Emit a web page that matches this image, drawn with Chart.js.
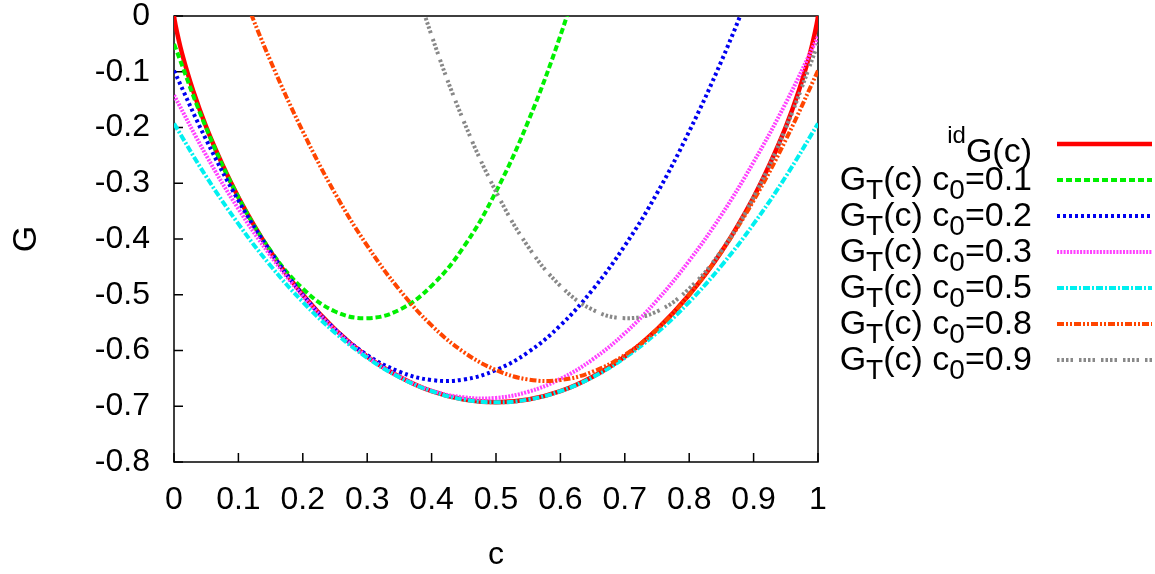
<!DOCTYPE html>
<html><head><meta charset="utf-8">
<script src="https://cdn.jsdelivr.net/npm/chart.js@4.4.0/dist/chart.umd.min.js"></script>
<style>html,body{margin:0;padding:0;background:#fff;}#wrap{width:1155px;height:574px;}</style>
</head><body><div id="wrap"><canvas id="chart" width="1155" height="574"></canvas></div>
<script>
// ---- data ----
const xTicks = [0, 0.1, 0.2, 0.3, 0.4, 0.5, 0.6, 0.7, 0.8, 0.9, 1];
const yTicks = [0, -0.1, -0.2, -0.3, -0.4, -0.5, -0.6, -0.7, -0.8];

const idealC = [0, 0.001, 0.005, 0.01, 0.02, 0.03, 0.05, 0.075, 0.1, 0.15, 0.2, 0.25, 0.3, 0.35, 0.4, 0.45, 0.5,
                0.55, 0.6, 0.65, 0.7, 0.75, 0.8, 0.85, 0.9, 0.925, 0.95, 0.97, 0.98, 0.99, 0.995, 0.999, 1];
const idealG = [0, -0.008, -0.031, -0.056, -0.098, -0.135, -0.199, -0.266, -0.325, -0.423, -0.500, -0.562, -0.611, -0.647, -0.673, -0.688, -0.693,
                -0.688, -0.673, -0.647, -0.611, -0.562, -0.500, -0.423, -0.325, -0.266, -0.199, -0.135, -0.098, -0.056, -0.031, -0.008, 0];

const cGrid = [0, 0.05, 0.1, 0.15, 0.2, 0.25, 0.3, 0.35, 0.4, 0.45, 0.5, 0.55, 0.6, 0.65, 0.7, 0.75, 0.8, 0.85, 0.9, 0.95, 1];
const gT01 = [-0.050, -0.201, -0.325, -0.421, -0.489, -0.530, -0.542, -0.527, -0.484, -0.414, -0.315, -0.189, -0.035, 0.147,
              null, null, null, null, null, null, null];
const gT02 = [-0.098, -0.222, -0.331, -0.423, -0.500, -0.562, -0.608, -0.638, -0.653, -0.652, -0.635, -0.603, -0.555, -0.491,
              -0.412, -0.318, -0.207, -0.081, 0.060, null, null];
const gT03 = [-0.142, -0.250, -0.346, -0.430, -0.502, -0.563, -0.611, -0.647, -0.672, -0.684, -0.685, -0.674, -0.651, -0.616,
              -0.569, -0.510, -0.439, -0.357, -0.262, -0.156, -0.037];
const gT05 = [-0.193, -0.288, -0.373, -0.448, -0.513, -0.568, -0.613, -0.648, -0.673, -0.688, -0.693, -0.688, -0.673, -0.648,
              -0.613, -0.568, -0.513, -0.448, -0.373, -0.288, -0.193];
const gT08 = [null, null, 0.060, -0.081, -0.207, -0.318, -0.412, -0.491, -0.555, -0.603, -0.635, -0.652, -0.653, -0.638,
              -0.608, -0.562, -0.500, -0.423, -0.331, -0.222, -0.098];
const gT09 = [null, null, null, null, null, null, null, 0.147, -0.035, -0.189, -0.315, -0.414, -0.484, -0.527,
              -0.542, -0.530, -0.489, -0.421, -0.325, -0.201, -0.050];

const c0Labels = ['0.1', '0.2', '0.3', '0.5', '0.8', '0.9'];
const xTitle = 'c';
const yTitle = 'G';

// ---- styles ----
const FONT = "'Liberation Sans', Arial, Helvetica, sans-serif";
const seriesStyle = [
  {color: '#ff0000', dash: []},
  {color: '#00f000', dash: [6, 3]},
  {color: '#0000f0', dash: [3, 3]},
  {color: '#ff40ff', dash: [2, 1.3]},
  {color: '#00f0f0', dash: [7, 2, 2, 2]},
  {color: '#ff4500', dash: [7, 2, 2, 2, 2, 2]},
  {color: '#888888', dash: [2.5, 2, 2.5, 2, 2.5, 2, 2.5, 6]}
];

const toPts = (xs, ys) => xs.map((x, i) => ({x: x, y: ys[i]}));
const seriesData = [toPts(idealC, idealG), toPts(cGrid, gT01), toPts(cGrid, gT02), toPts(cGrid, gT03),
                    toPts(cGrid, gT05), toPts(cGrid, gT08), toPts(cGrid, gT09)];

const datasets = seriesData.map((d, i) => ({
  data: d,
  borderColor: seriesStyle[i].color,
  borderDash: seriesStyle[i].dash,
  borderWidth: i === 0 ? 4.5 : 4,
  pointRadius: 0,
  fill: false,
  tension: i === 0 ? 0 : 0.4,
  cubicInterpolationMode: i === 0 ? 'monotone' : 'default',
  order: 10 - i
}));

const fmt = v => String(Number(v.toFixed(1)));

function legendSegments(i) {
  if (i === 0) return [{t: 'id', sup: true}, {t: 'G(c)'}];
  return [{t: 'G'}, {t: 'T', sub: true}, {t: '(c) c'}, {t: '0', sub: true}, {t: '=' + c0Labels[i - 1]}];
}

const framePlugin = {
  id: 'frame',
  beforeDatasetsDraw(chart) {
    const {ctx, chartArea: a, scales: {x, y}} = chart;
    ctx.save();
    ctx.strokeStyle = '#000';
    ctx.lineWidth = 1.5;
    ctx.strokeRect(a.left, a.top, a.right - a.left, a.bottom - a.top);
    ctx.beginPath();
    xTicks.forEach(v => { const px = x.getPixelForValue(v); ctx.moveTo(px, a.bottom); ctx.lineTo(px, a.bottom - 9); });
    yTicks.forEach(v => { const py = y.getPixelForValue(v); ctx.moveTo(a.left, py); ctx.lineTo(a.left + 9, py); });
    ctx.stroke();
    ctx.restore();
  },
  afterDraw(chart) {
    const ctx = chart.ctx;
    const lx0 = 1057, lx1 = 1152, textRight = 1032, top = 144, step = 36;
    ctx.save();
    datasets.forEach((ds, i) => {
      const ly = top + i * step;
      ctx.setLineDash(ds.borderDash);
      ctx.strokeStyle = ds.borderColor;
      ctx.lineWidth = ds.borderWidth;
      ctx.beginPath(); ctx.moveTo(lx0, ly); ctx.lineTo(lx1, ly); ctx.stroke();
      ctx.setLineDash([]);
      const segs = legendSegments(i);
      const base = i === 0 ? ly + 18 : ly + 10;
      const mainF = '34px ' + FONT, smallF = '28px ' + FONT, supF = '24px ' + FONT;
      let widths = segs.map(s => { ctx.font = s.sub ? smallF : (s.sup ? supF : mainF); return ctx.measureText(s.t).width; });
      let xx = textRight - widths.reduce((p, c) => p + c, 0);
      ctx.fillStyle = '#000';
      ctx.textBaseline = 'alphabetic';
      ctx.textAlign = 'left';
      segs.forEach((s, k) => {
        ctx.font = s.sub ? smallF : (s.sup ? supF : mainF);
        const yy = s.sub ? base + 9 : (s.sup ? base - 19 : base);
        ctx.fillText(s.t, xx, yy);
        xx += widths[k];
      });
    });
    ctx.restore();
  }
};

new Chart(document.getElementById('chart'), {
  type: 'line',
  data: {datasets: datasets},
  options: {
    responsive: false,
    animation: false,
    devicePixelRatio: 1,
    layout: {padding: {left: 0, right: 337, top: 16, bottom: 0}},
    elements: {line: {capBezierPoints: false}},
    plugins: {legend: {display: false}, tooltip: {enabled: false}},
    scales: {
      x: {
        type: 'linear', min: 0, max: 1,
        afterBuildTicks: s => { s.ticks = xTicks.map(v => ({value: v})); },
        ticks: {font: {family: FONT, size: 32}, color: '#000', padding: 19, maxRotation: 0, autoSkip: false, callback: v => fmt(v)},
        grid: {display: false, drawTicks: false},
        border: {display: false},
        title: {display: true, text: xTitle, font: {family: FONT, size: 32}, color: '#000', padding: {top: 3, bottom: 0}},
        afterFit: s => { s.height = 112; s.paddingLeft = 0; s.paddingRight = 0; }
      },
      y: {
        type: 'linear', min: -0.8, max: 0,
        afterBuildTicks: s => { s.ticks = yTicks.map(v => ({value: v})); },
        ticks: {font: {family: FONT, size: 32}, color: '#000', padding: 24, autoSkip: false, callback: v => fmt(v)},
        grid: {display: false, drawTicks: false},
        border: {display: false},
        title: {display: true, text: yTitle, font: {family: FONT, size: 34}, color: '#000', padding: {top: 6, bottom: 0}},
        afterFit: s => { s.width = 174; s.paddingTop = 0; s.paddingBottom = 0; }
      }
    }
  },
  plugins: [framePlugin]
});
</script>
</body></html>
